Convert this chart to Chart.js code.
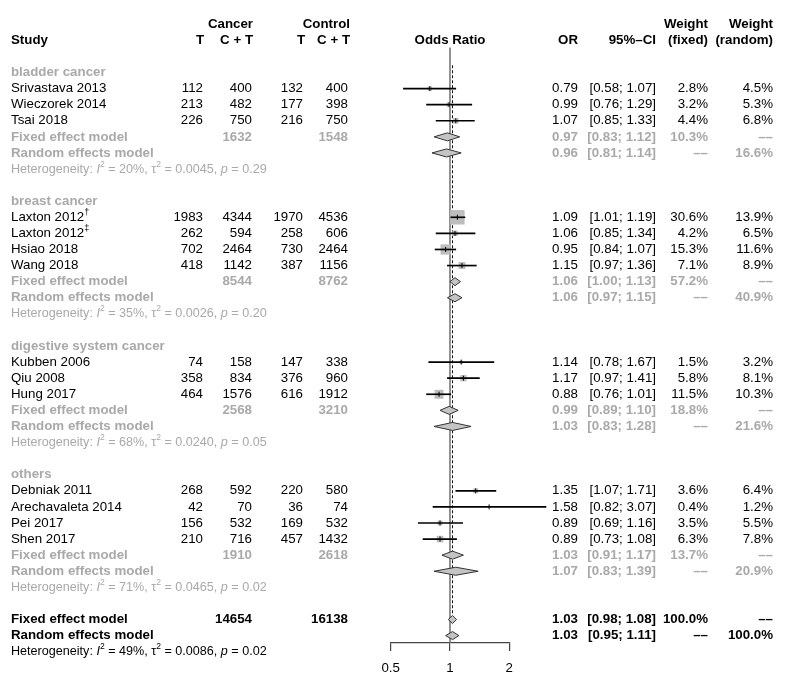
<!DOCTYPE html>
<html>
<head>
<meta charset="utf-8">
<script src="https://cdn.jsdelivr.net/npm/chart.js@4.4.0/dist/chart.umd.min.js"></script>
<style>
  html, body { margin: 0; padding: 0; background: #fff; }
  canvas { display: block; }
</style>
</head>
<body>
<canvas id="forest" width="788" height="680"></canvas>
<script>
// single studies
const studyNames = ["Srivastava 2013", "Wieczorek 2014", "Tsai 2018", "Laxton 2012", "Laxton 2012", "Hsiao 2018", "Wang 2018",
  "Kubben 2006", "Qiu 2008", "Hung 2017", "Debniak 2011", "Arechavaleta 2014", "Pei 2017", "Shen 2017"]
const studyNotes = ["", "", "", "†", "‡", "", "", "", "", "", "", "", "", ""]
const studyGroup = [0, 0, 0, 1, 1, 1, 1, 2, 2, 2, 3, 3, 3, 3]
const cancerEvents = [112, 213, 226, 1983, 262, 702, 418, 74, 358, 464, 268, 42, 156, 210]
const cancerTotal = [400, 482, 750, 4344, 594, 2464, 1142, 158, 834, 1576, 592, 70, 532, 716]
const controlEvents = [132, 177, 216, 1970, 258, 730, 387, 147, 376, 616, 220, 36, 169, 457]
const controlTotal = [400, 398, 750, 4536, 606, 2464, 1156, 338, 960, 1912, 580, 74, 532, 1432]
const oddsRatio = [0.79, 0.99, 1.07, 1.09, 1.06, 0.95, 1.15, 1.14, 1.17, 0.88, 1.35, 1.58, 0.89, 0.89]
const ciLower = [0.58, 0.76, 0.85, 1.01, 0.85, 0.84, 0.97, 0.78, 0.97, 0.76, 1.07, 0.82, 0.69, 0.73]
const ciUpper = [1.07, 1.29, 1.33, 1.19, 1.34, 1.07, 1.36, 1.67, 1.41, 1.01, 1.71, 3.07, 1.16, 1.08]
const weightFixed = [2.8, 3.2, 4.4, 30.6, 4.2, 15.3, 7.1, 1.5, 5.8, 11.5, 3.6, 0.4, 3.5, 6.3]
const weightRandom = [4.5, 5.3, 6.8, 13.9, 6.5, 11.6, 8.9, 3.2, 8.1, 10.3, 6.4, 1.2, 5.5, 7.8]

// subgroups
const groupNames = ["bladder cancer", "breast cancer", "digestive system cancer", "others"]
const groupCancerTotal = [1632, 8544, 2568, 1910]
const groupControlTotal = [1548, 8762, 3210, 2618]
const groupFixedOR = [0.97, 1.06, 0.99, 1.03]
const groupFixedLower = [0.83, 1.00, 0.89, 0.91]
const groupFixedUpper = [1.12, 1.13, 1.10, 1.17]
const groupRandomOR = [0.96, 1.06, 1.03, 1.07]
const groupRandomLower = [0.81, 0.97, 0.83, 0.83]
const groupRandomUpper = [1.14, 1.15, 1.28, 1.39]
const groupWeightFixed = [10.3, 57.2, 18.8, 13.7]
const groupWeightRandom = [16.6, 40.9, 21.6, 20.9]
const groupI2 = [20, 35, 68, 71]
const groupTau2 = [0.0045, 0.0026, 0.0240, 0.0465]
const groupP = [0.29, 0.20, 0.05, 0.02]

// overall
const overallCancerTotal = 14654
const overallControlTotal = 16138
const overallFixed = [1.03, 0.98, 1.08]   // OR, lower, upper
const overallRandom = [1.03, 0.95, 1.11]
const overallI2 = 49
const overallTau2 = 0.0086
const overallP = 0.02

const xTicks = [0.5, 1, 2]

// ---- layout of rows ----
const FAMILY = "'Liberation Sans', Arial, Helvetica, sans-serif"
const GRAY = "#a9a9a9"
const FS = 13.3
const DASH = "––"
let rowItems = []
let studyRow = []
let r = 0
for (let g = 0; g < groupNames.length; g++) {
  rowItems.push({ kind: "group", g: g, row: r++ })
  for (let i = 0; i < studyNames.length; i++) {
    if (studyGroup[i] == g) {
      studyRow[i] = r
      rowItems.push({ kind: "study", i: i, row: r++ })
    }
  }
  rowItems.push({ kind: "gfixed", g: g, row: r++ })
  rowItems.push({ kind: "grandom", g: g, row: r++ })
  rowItems.push({ kind: "ghet", g: g, row: r++ })
  r++
}
const overallRow = r

// y value range so rows land 16.35px apart, first one at 63px
const yMin = -3.87
const yMax = 35.46
const diamondHalf = 0.25

// ---- datasets ----
let datasets = []

// reference line at OR = 1
datasets.push({
  type: "line", data: [{ x: 1, y: -1.55 }, { x: 1, y: yMax }],
  borderColor: "#707070", borderWidth: 1.5, pointRadius: 0, fill: false, order: 10, clip: false
})
// fixed effect line
datasets.push({
  type: "line", data: [{ x: overallFixed[0], y: -0.45 }, { x: overallFixed[0], y: overallRow - 0.3 }],
  borderColor: "#111", borderWidth: 1, borderDash: [3, 2], pointRadius: 0, fill: false, order: 9, clip: false
})

// weight squares
datasets.push({
  type: "scatter",
  data: studyNames.map((n, i) => ({ x: oddsRatio[i], y: studyRow[i] })),
  pointStyle: "rect",
  pointRadius: weightFixed.map(w => 1.85 * Math.sqrt(w)),
  backgroundColor: "#bdbdbd", borderWidth: 0, order: 8, clip: false
})
// confidence intervals
datasets.push({
  type: "bar", indexAxis: "y", grouped: false,
  data: studyNames.map((n, i) => ({ x: [ciLower[i], ciUpper[i]], y: studyRow[i] })),
  backgroundColor: "#000", borderWidth: 0, barThickness: 1, order: 7, clip: false
})
// point estimate tick
datasets.push({
  type: "scatter",
  data: studyNames.map((n, i) => ({ x: oddsRatio[i], y: studyRow[i] })),
  pointStyle: "line", rotation: 90, pointRadius: 2.5,
  borderColor: "#000", borderWidth: 1, order: 6, clip: false
})

// diamonds
function diamond(est, lo, hi, row) {
  datasets.push({
    type: "line",
    data: [{ x: lo, y: row }, { x: est, y: row - diamondHalf }, { x: hi, y: row }, { x: est, y: row + diamondHalf }, { x: lo, y: row }],
    borderColor: "#333", borderWidth: 1, backgroundColor: "#c4c4c4",
    fill: "shape", pointRadius: 0, tension: 0, order: 5, clip: false
  })
}
rowItems.forEach(it => {
  if (it.kind == "gfixed") diamond(groupFixedOR[it.g], groupFixedLower[it.g], groupFixedUpper[it.g], it.row)
  if (it.kind == "grandom") diamond(groupRandomOR[it.g], groupRandomLower[it.g], groupRandomUpper[it.g], it.row)
})
diamond(overallFixed[0], overallFixed[1], overallFixed[2], overallRow)
diamond(overallRandom[0], overallRandom[1], overallRandom[2], overallRow + 1)

// ---- table text ----
const col = { name: 11, cT: 203, cCT: 252, kT: 303, kCT: 348, or: 578, ci: 656, wf: 708, wr: 773 }

function txt(ctx, s, x, y, align, bold, color, size) {
  ctx.font = (bold ? "bold " : "") + (size || FS) + "px " + FAMILY
  ctx.fillStyle = color
  ctx.textAlign = align
  ctx.textBaseline = "middle"
  ctx.fillText(s, x, y)
}
function rich(ctx, parts, x, y, size, color) {
  let cx = x
  ctx.fillStyle = color
  ctx.textAlign = "left"
  ctx.textBaseline = "middle"
  for (const p of parts) {
    const fs = p.sup ? size * 0.68 : size
    ctx.font = (p.italic ? "italic " : "") + (p.bold ? "bold " : "") + fs + "px " + FAMILY
    ctx.fillText(p.t, cx, p.sup ? y - size * 0.38 : y)
    cx += ctx.measureText(p.t).width
  }
}
function hetText(ctx, i2, tau2, p, y, color) {
  rich(ctx, [
    { t: "Heterogeneity: " }, { t: "I", italic: true }, { t: "2", sup: true },
    { t: " = " + i2 + "%, " }, { t: "τ" }, { t: "2", sup: true },
    { t: " = " + tau2.toFixed(4) + ", " }, { t: "p", italic: true }, { t: " = " + p.toFixed(2) }
  ], col.name, y, 12.6, color)
}
const ciStr = (lo, hi) => "[" + lo.toFixed(2) + "; " + hi.toFixed(2) + "]"
const pct = v => v.toFixed(1) + "%"

const tablePlugin = {
  id: "forestTable",
  afterDraw(chart) {
    const ctx = chart.ctx
    const y = v => chart.scales.y.getPixelForValue(v)
    const x = v => chart.scales.x.getPixelForValue(v)
    ctx.save()
    // header
    const h1 = y(-3), h2 = y(-2)
    txt(ctx, "Study", col.name, h2, "left", true, "#000")
    txt(ctx, "Cancer", 253, h1, "right", true, "#000")
    txt(ctx, "Control", 350, h1, "right", true, "#000")
    txt(ctx, "T", 204, h2, "right", true, "#000")
    txt(ctx, "C + T", 253, h2, "right", true, "#000")
    txt(ctx, "T", 305, h2, "right", true, "#000")
    txt(ctx, "C + T", 350, h2, "right", true, "#000")
    txt(ctx, "Odds Ratio", x(1), h2, "center", true, "#000")
    txt(ctx, "OR", col.or, h2, "right", true, "#000")
    txt(ctx, "95%–CI", col.ci, h2, "right", true, "#000")
    txt(ctx, "Weight", col.wf, h1, "right", true, "#000")
    txt(ctx, "(fixed)", col.wf, h2, "right", true, "#000")
    txt(ctx, "Weight", col.wr, h1, "right", true, "#000")
    txt(ctx, "(random)", col.wr, h2, "right", true, "#000")

    rowItems.forEach(it => {
      const yy = y(it.row)
      if (it.kind == "group") {
        txt(ctx, groupNames[it.g], col.name, yy, "left", true, GRAY)
      } else if (it.kind == "study") {
        const i = it.i
        rich(ctx, [{ t: studyNames[i] }, { t: studyNotes[i], sup: true }], col.name, yy, FS, "#000")
        txt(ctx, String(cancerEvents[i]), col.cT, yy, "right", false, "#000")
        txt(ctx, String(cancerTotal[i]), col.cCT, yy, "right", false, "#000")
        txt(ctx, String(controlEvents[i]), col.kT, yy, "right", false, "#000")
        txt(ctx, String(controlTotal[i]), col.kCT, yy, "right", false, "#000")
        txt(ctx, oddsRatio[i].toFixed(2), col.or, yy, "right", false, "#000")
        txt(ctx, ciStr(ciLower[i], ciUpper[i]), col.ci, yy, "right", false, "#000")
        txt(ctx, pct(weightFixed[i]), col.wf, yy, "right", false, "#000")
        txt(ctx, pct(weightRandom[i]), col.wr, yy, "right", false, "#000")
      } else if (it.kind == "gfixed") {
        const g = it.g
        txt(ctx, "Fixed effect model", col.name, yy, "left", true, GRAY)
        txt(ctx, String(groupCancerTotal[g]), col.cCT, yy, "right", true, GRAY)
        txt(ctx, String(groupControlTotal[g]), col.kCT, yy, "right", true, GRAY)
        txt(ctx, groupFixedOR[g].toFixed(2), col.or, yy, "right", true, GRAY)
        txt(ctx, ciStr(groupFixedLower[g], groupFixedUpper[g]), col.ci, yy, "right", true, GRAY)
        txt(ctx, pct(groupWeightFixed[g]), col.wf, yy, "right", true, GRAY)
        txt(ctx, DASH, col.wr, yy, "right", true, GRAY)
      } else if (it.kind == "grandom") {
        const g = it.g
        txt(ctx, "Random effects model", col.name, yy, "left", true, GRAY)
        txt(ctx, groupRandomOR[g].toFixed(2), col.or, yy, "right", true, GRAY)
        txt(ctx, ciStr(groupRandomLower[g], groupRandomUpper[g]), col.ci, yy, "right", true, GRAY)
        txt(ctx, DASH, col.wf, yy, "right", true, GRAY)
        txt(ctx, pct(groupWeightRandom[g]), col.wr, yy, "right", true, GRAY)
      } else if (it.kind == "ghet") {
        hetText(ctx, groupI2[it.g], groupTau2[it.g], groupP[it.g], yy, GRAY)
      }
    })

    // overall
    const yf = y(overallRow), yr = y(overallRow + 1), yh = y(overallRow + 2)
    txt(ctx, "Fixed effect model", col.name, yf, "left", true, "#000")
    txt(ctx, String(overallCancerTotal), col.cCT, yf, "right", true, "#000")
    txt(ctx, String(overallControlTotal), col.kCT, yf, "right", true, "#000")
    txt(ctx, overallFixed[0].toFixed(2), col.or, yf, "right", true, "#000")
    txt(ctx, ciStr(overallFixed[1], overallFixed[2]), col.ci, yf, "right", true, "#000")
    txt(ctx, "100.0%", col.wf, yf, "right", true, "#000")
    txt(ctx, DASH, col.wr, yf, "right", true, "#000")
    txt(ctx, "Random effects model", col.name, yr, "left", true, "#000")
    txt(ctx, overallRandom[0].toFixed(2), col.or, yr, "right", true, "#000")
    txt(ctx, ciStr(overallRandom[1], overallRandom[2]), col.ci, yr, "right", true, "#000")
    txt(ctx, DASH, col.wf, yr, "right", true, "#000")
    txt(ctx, "100.0%", col.wr, yr, "right", true, "#000")
    hetText(ctx, overallI2, overallTau2, overallP, yh, "#000")
    ctx.restore()
  }
}

const chart = new Chart(document.getElementById("forest"), {
  type: "scatter",
  data: { datasets: datasets },
  options: {
    responsive: false,
    animation: false,
    events: [],
    layout: { padding: { left: 390.7, right: 278.7, top: 0, bottom: 0 } },
    plugins: { legend: { display: false }, tooltip: { enabled: false } },
    scales: {
      x: {
        type: "logarithmic", position: "bottom", min: 0.5, max: 2, offset: false,
        afterBuildTicks: s => { s.ticks = xTicks.map(v => ({ value: v })) },
        afterFit: s => { s.height = 37 },
        grid: { drawOnChartArea: false, drawTicks: true, tickLength: 8, color: "#444", lineWidth: 1.2, offset: false },
        border: { display: true, color: "#444", width: 1.2 },
        ticks: { color: "#000", font: { family: FAMILY, size: 13.3 }, padding: 9, maxRotation: 0, autoSkip: false,
          callback: v => String(v) }
      },
      y: { type: "linear", reverse: true, display: false, offset: false, grace: 0, bounds: "data",
        min: yMin, max: yMax, grid: { offset: false } }
    }
  },
  plugins: [tablePlugin]
})
</script>
</body>
</html>
